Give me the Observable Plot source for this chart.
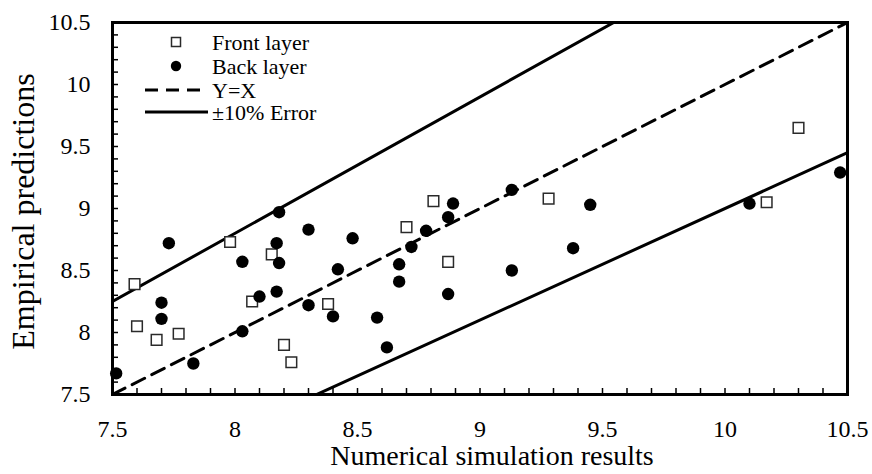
<!DOCTYPE html>
<html>
<head>
<meta charset="utf-8">
<script src="https://cdn.jsdelivr.net/npm/d3@7"></script>
<script src="https://cdn.jsdelivr.net/npm/@observablehq/plot@0.6"></script>
<style>
  html, body { margin: 0; padding: 0; background: #fff; }
  #chart { width: 872px; height: 474px; }
</style>
</head>
<body>
<div id="chart"></div>
<script>
// Front layer (open squares): numerical simulation (x) vs empirical prediction (y)
const frontX = [7.59, 7.60, 7.68, 7.77, 7.98, 8.07, 8.15, 8.20, 8.23, 8.38, 8.70, 8.81, 8.87, 9.28, 10.17, 10.30];
const frontY = [8.39, 8.05, 7.94, 7.99, 8.73, 8.25, 8.63, 7.90, 7.76, 8.23, 8.85, 9.06, 8.57, 9.08, 9.05, 9.65];

// Back layer (filled circles)
const backX = [7.515, 7.73, 7.70, 7.70, 7.83, 8.03, 8.03, 8.10, 8.17, 8.17, 8.18, 8.18, 8.30, 8.30, 8.40, 8.42,
               8.48, 8.58, 8.62, 8.67, 8.67, 8.72, 8.78, 8.87, 8.89, 8.87, 9.13, 9.13, 9.38, 9.45, 10.10, 10.47];
const backY = [7.67, 8.72, 8.24, 8.11, 7.75, 8.57, 8.01, 8.29, 8.33, 8.72, 8.56, 8.97, 8.83, 8.22, 8.13, 8.51,
               8.76, 8.12, 7.88, 8.55, 8.41, 8.69, 8.82, 8.93, 9.04, 8.31, 9.15, 8.50, 8.68, 9.03, 9.04, 9.29];

// Reference lines: Y = X and ±10% error bands
const refX = [7.5, 10.5];
const equalityFactor = 1.0;
const errorFactors = [1.1, 0.9];

// Axis ticks
const xTickLabels = [7.5, 8, 8.5, 9, 9.5, 10, 10.5];
const yTickLabels = [7.5, 8, 8.5, 9, 9.5, 10, 10.5];
const minorTicks = d3.range(75, 106).map(d => d / 10);

// Texts
const xTitle = "Numerical simulation results";
const yTitle = "Empirical predictions";
const legendLabels = ["Front layer", "Back layer", "Y=X", "±10% Error"];

const front = frontX.map((x, i) => ({x, y: frontY[i]}));
const back = backX.map((x, i) => ({x, y: backY[i]}));
const eqLine = refX.map(x => ({x, y: x * equalityFactor}));
const errLines = errorFactors.flatMap(f => refX.map(x => ({x, y: x * f, f})));

const font = "'Liberation Serif', 'Times New Roman', Times, serif";

const chart = Plot.plot({
  width: 872,
  height: 474,
  marginLeft: 112,
  marginRight: 25,
  marginTop: 22,
  marginBottom: 80,
  style: {fontFamily: font, fontSize: "24px", color: "black", background: "white", overflow: "visible"},
  x: {domain: [7.5, 10.5]},
  y: {domain: [7.5, 10.5]},
  marks: [
    Plot.line(errLines, {x: "x", y: "y", z: "f", stroke: "black", strokeWidth: 3, clip: true}),
    Plot.line(eqLine, {x: "x", y: "y", stroke: "black", strokeWidth: 3, strokeDasharray: "14,8", clip: true}),
    Plot.dot(front, {x: "x", y: "y", symbol: "square", r: 6, fill: "white", stroke: "#2a2a2a", strokeWidth: 1.5}),
    Plot.dot(back, {x: "x", y: "y", r: 6.2, fill: "black", stroke: "none"}),
    Plot.axisX(minorTicks, {tickSize: -6, tickFormat: () => "", strokeWidth: 1.5, label: null}),
    Plot.axisY(minorTicks, {tickSize: -6, tickFormat: () => "", strokeWidth: 1.5, label: null}),
    Plot.axisX(xTickLabels, {tickSize: 0, tickPadding: 25, tickFormat: d => String(d), fontSize: 24, fontFamily: font, label: null}),
    Plot.axisY(yTickLabels, {tickSize: 0, tickPadding: 22, tickFormat: d => String(d), fontSize: 24, fontFamily: font, label: null}),
    Plot.frame({stroke: "black", strokeWidth: 3}),
    Plot.text([xTitle], {frameAnchor: "bottom", textAnchor: "middle", lineAnchor: "middle", dx: 12, dy: 62, fontSize: 28}),
    Plot.text([yTitle], {frameAnchor: "left", textAnchor: "middle", lineAnchor: "middle", rotate: -90, dx: -89, dy: 3, fontSize: 32})
  ]
});

document.getElementById("chart").appendChild(chart);

// Legend (inside plot, top-left)
const svg = d3.select(chart);
const lg = svg.append("g").attr("font-family", font).attr("font-size", 22).attr("fill", "black")
  .attr("text-anchor", "start");
const rowY = [42, 66, 90, 112];
// square
lg.append("rect").attr("x", 176 - 4.5).attr("y", rowY[0] - 4.5).attr("width", 9).attr("height", 9)
  .attr("fill", "white").attr("stroke", "#2a2a2a").attr("stroke-width", 1.5);
// circle
lg.append("circle").attr("cx", 176).attr("cy", rowY[1]).attr("r", 5.2).attr("fill", "black");
// dashed
lg.append("line").attr("x1", 145).attr("x2", 207).attr("y1", rowY[2]).attr("y2", rowY[2])
  .attr("stroke", "black").attr("stroke-width", 3).attr("stroke-dasharray", "13,8");
// solid
lg.append("line").attr("x1", 145).attr("x2", 208).attr("y1", rowY[3]).attr("y2", rowY[3])
  .attr("stroke", "black").attr("stroke-width", 3);
legendLabels.forEach((t, i) => {
  lg.append("text").attr("x", 212).attr("y", rowY[i]).attr("dy", "0.35em")
    .attr("text-anchor", "start").text(t);
});
</script>
</body>
</html>
